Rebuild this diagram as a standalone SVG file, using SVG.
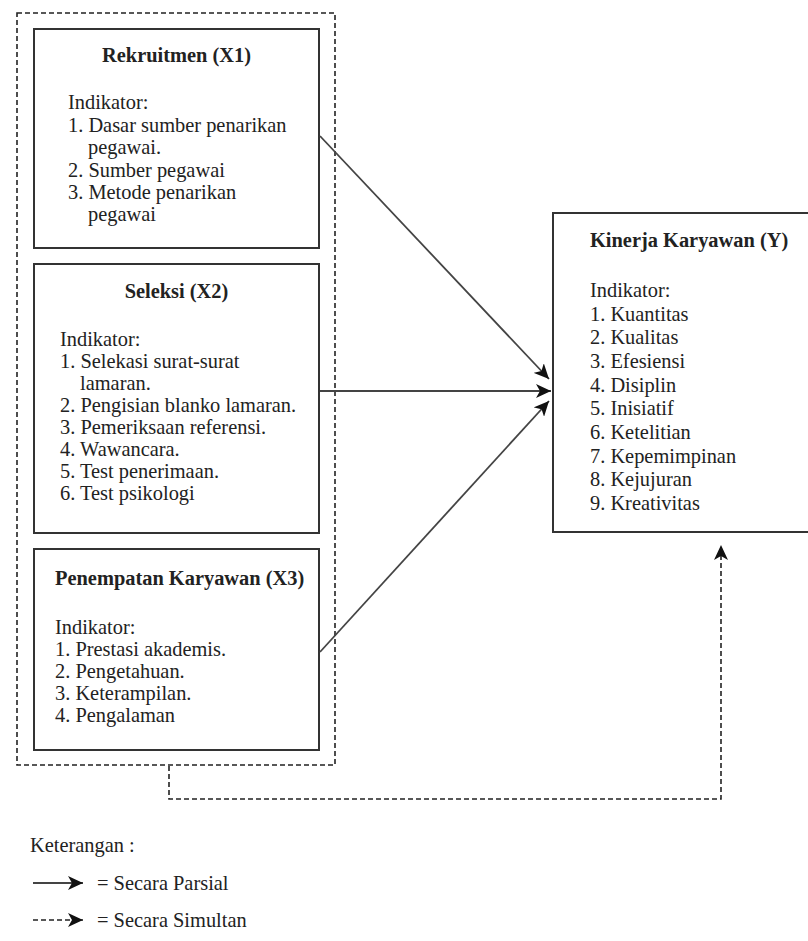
<svg xmlns="http://www.w3.org/2000/svg" width="808" height="941" viewBox="0 0 808 941">
<defs>
<marker id="ah" markerUnits="userSpaceOnUse" markerWidth="16" markerHeight="14" refX="15" refY="7" orient="auto">
<path d="M0,0 L15,7 L0,14 L4,7 Z" fill="#111"/>
</marker>
<style>
.box{fill:#fff;stroke:#333;stroke-width:2}
.dash{fill:none;stroke:#222;stroke-width:1.6;stroke-dasharray:5 3}
.t{font-family:"Liberation Serif","Times New Roman",serif;font-size:20.4px;fill:#222}
.b{font-weight:bold}
.ln{fill:none;stroke:#444;stroke-width:1.8}
</style>
</defs>
<rect width="808" height="941" fill="#fff"/>
<rect id="group-frame" class="dash" x="17" y="13" width="318" height="752"/>
<g id="x1">
<rect class="box" x="34" y="29" width="285" height="219"/>
<text class="t b" x="176.5" y="62" text-anchor="middle">Rekruitmen (X1)</text>
<text class="t" x="68" y="109">Indikator:</text>
<text class="t" x="68" y="132">1. Dasar sumber penarikan</text>
<text class="t" x="88" y="154">pegawai.</text>
<text class="t" x="68" y="177">2. Sumber pegawai</text>
<text class="t" x="68" y="199">3. Metode penarikan</text>
<text class="t" x="88" y="221">pegawai</text>
</g>
<g id="x2">
<rect class="box" x="34" y="264" width="285" height="269"/>
<text class="t b" x="176.5" y="298" text-anchor="middle">Seleksi (X2)</text>
<text class="t" x="60" y="346">Indikator:</text>
<text class="t" x="60" y="368">1. Selekasi surat-surat</text>
<text class="t" x="80" y="390">lamaran.</text>
<text class="t" x="60" y="412">2. Pengisian blanko lamaran.</text>
<text class="t" x="60" y="434">3. Pemeriksaan referensi.</text>
<text class="t" x="60" y="456">4. Wawancara.</text>
<text class="t" x="60" y="478">5. Test penerimaan.</text>
<text class="t" x="60" y="500">6. Test psikologi</text>
</g>
<g id="x3">
<rect class="box" x="34" y="549" width="285" height="201"/>
<text class="t b" x="55" y="585">Penempatan Karyawan (X3)</text>
<text class="t" x="55" y="634">Indikator:</text>
<text class="t" x="55" y="656">1. Prestasi akademis.</text>
<text class="t" x="55" y="678">2. Pengetahuan.</text>
<text class="t" x="55" y="700">3. Keterampilan.</text>
<text class="t" x="55" y="722">4. Pengalaman</text>
</g>
<g id="y">
<rect class="box" x="553" y="213" width="260" height="319"/>
<text class="t b" x="590" y="247">Kinerja Karyawan (Y)</text>
<text class="t" x="590" y="297">Indikator:</text>
<text class="t" x="590" y="320.7">1. Kuantitas</text>
<text class="t" x="590" y="344.3">2. Kualitas</text>
<text class="t" x="590" y="368">3. Efesiensi</text>
<text class="t" x="590" y="391.7">4. Disiplin</text>
<text class="t" x="590" y="415.3">5. Inisiatif</text>
<text class="t" x="590" y="439">6. Ketelitian</text>
<text class="t" x="590" y="462.7">7. Kepemimpinan</text>
<text class="t" x="590" y="486.3">8. Kejujuran</text>
<text class="t" x="590" y="510">9. Kreativitas</text>
</g>
<g id="connectors">
<line class="ln" x1="320" y1="136" x2="549" y2="379" marker-end="url(#ah)"/>
<line class="ln" x1="320" y1="391" x2="551" y2="391" marker-end="url(#ah)"/>
<line class="ln" x1="320" y1="652" x2="549" y2="401" marker-end="url(#ah)"/>
<path class="dash" d="M169,766 V799 H721 V545" marker-end="url(#ah)"/>
</g>
<g id="legend">
<text class="t" x="30" y="852">Keterangan :</text>
<line class="ln" x1="33" y1="883" x2="83" y2="883" marker-end="url(#ah)"/>
<text class="t" x="97" y="890">= Secara Parsial</text>
<path class="dash" d="M33,920 H83" marker-end="url(#ah)"/>
<text class="t" x="97" y="927">= Secara Simultan</text>
</g>
</svg>
